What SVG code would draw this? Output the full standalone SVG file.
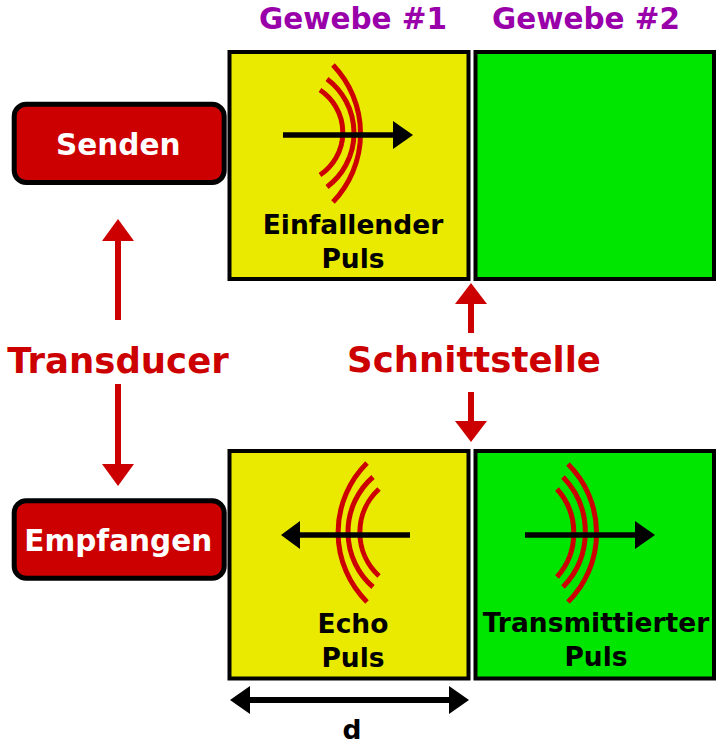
<svg xmlns="http://www.w3.org/2000/svg" width="716" height="744" viewBox="0 0 716 744">
<style>
text{font-family:"DejaVu Sans","Liberation Sans",sans-serif;font-weight:bold;text-anchor:middle}
.t1{fill:#000;font-size:26.5px}
.red{fill:#cc0000;font-size:35.5px}
.pur{fill:#9900aa;font-size:29.5px}
.wh{fill:#fff;font-size:29.5px}
.box{stroke:#000;stroke-width:4}
.btn{fill:#cc0000;stroke:#000;stroke-width:5}
.wave{fill:none;stroke:#cc0000;stroke-width:5}
.bl{stroke:#000;stroke-width:5.5;fill:none}
.rl{stroke:#cc0000;stroke-width:6;fill:none}
</style>
<rect width="716" height="744" fill="#fff"/>
<text class="pur" x="353" y="28.5">Gewebe #1</text>
<text class="pur" x="586" y="28.5">Gewebe #2</text>
<g id="tissue1-top">
<rect class="box" x="229.5" y="52" width="239" height="227" fill="#eaea00"/>
<path class="wave" d="M333,65 A99,99 0 0 1 333,202"/>
<path class="wave" d="M327,79 A67.5,67.5 0 0 1 327,187"/>
<path class="wave" d="M320,90 A51,51 0 0 1 320,175"/>
<line class="bl" x1="283" y1="135" x2="395" y2="135"/>
<polygon points="393,121 413,135 393,149" fill="#000"/>
<text class="t1" x="353" y="234">Einfallender</text>
<text class="t1" x="353" y="268">Puls</text>
</g>
<g id="tissue2-top">
<rect class="box" x="475.5" y="52" width="238.5" height="227" fill="#00e600"/>
</g>
<g id="tissue1-bottom">
<rect class="box" x="229.5" y="451" width="239" height="227.5" fill="#eaea00"/>
<path class="wave" d="M367,463 A98,98 0 0 0 367,602"/>
<path class="wave" d="M373,477 A73,73 0 0 0 373,587"/>
<path class="wave" d="M379,489 A59,59 0 0 0 379,576"/>
<line class="bl" x1="410" y1="535" x2="298" y2="535"/>
<polygon points="300,521 281,535 300,549" fill="#000"/>
<text class="t1" x="353" y="633">Echo</text>
<text class="t1" x="353" y="667">Puls</text>
</g>
<g id="tissue2-bottom">
<rect class="box" x="475.5" y="451" width="238.5" height="227.5" fill="#00e600"/>
<path class="wave" d="M568,464 A97.6,97.6 0 0 1 568,602"/>
<path class="wave" d="M563,477 A79,79 0 0 1 563,587"/>
<path class="wave" d="M557,489 A66,66 0 0 1 557,577"/>
<line class="bl" x1="525" y1="535" x2="637" y2="535"/>
<polygon points="635,521 655,535 635,549" fill="#000"/>
<text class="t1" x="596" y="632">Transmittierter</text>
<text class="t1" x="596" y="666">Puls</text>
</g>
<g id="senden">
<rect class="btn" x="14.2" y="104.2" width="210" height="78.3" rx="12"/>
<text class="wh" x="118.3" y="155">Senden</text>
</g>
<g id="empfangen">
<rect class="btn" x="14.2" y="500.8" width="210" height="77.4" rx="12"/>
<text class="wh" x="118.3" y="551">Empfangen</text>
</g>
<g id="transducer">
<text class="red" x="118" y="373">Transducer</text>
</g>
<g id="schnittstelle">
<text class="red" x="474" y="372">Schnittstelle</text>
</g>
<g id="connectors">
<line class="rl" x1="118" y1="320" x2="118" y2="238"/>
<polygon points="102,241 118,219 134,241" fill="#cc0000"/>
<line class="rl" x1="118" y1="384" x2="118" y2="466"/>
<polygon points="102,464 118,486 134,464" fill="#cc0000"/>
<line class="rl" x1="471" y1="333" x2="471" y2="301"/>
<polygon points="455,304 471,283 487,304" fill="#cc0000"/>
<line class="rl" x1="471" y1="392" x2="471" y2="423"/>
<polygon points="455,421 471,442 487,421" fill="#cc0000"/>
<line x1="248" y1="700" x2="451" y2="700" stroke="#000" stroke-width="6"/>
<polygon points="250,686 230,700 250,714" fill="#000"/>
<polygon points="449,686 469,700 449,714" fill="#000"/>
</g>
<text class="t1" x="352" y="739">d</text>
</svg>
